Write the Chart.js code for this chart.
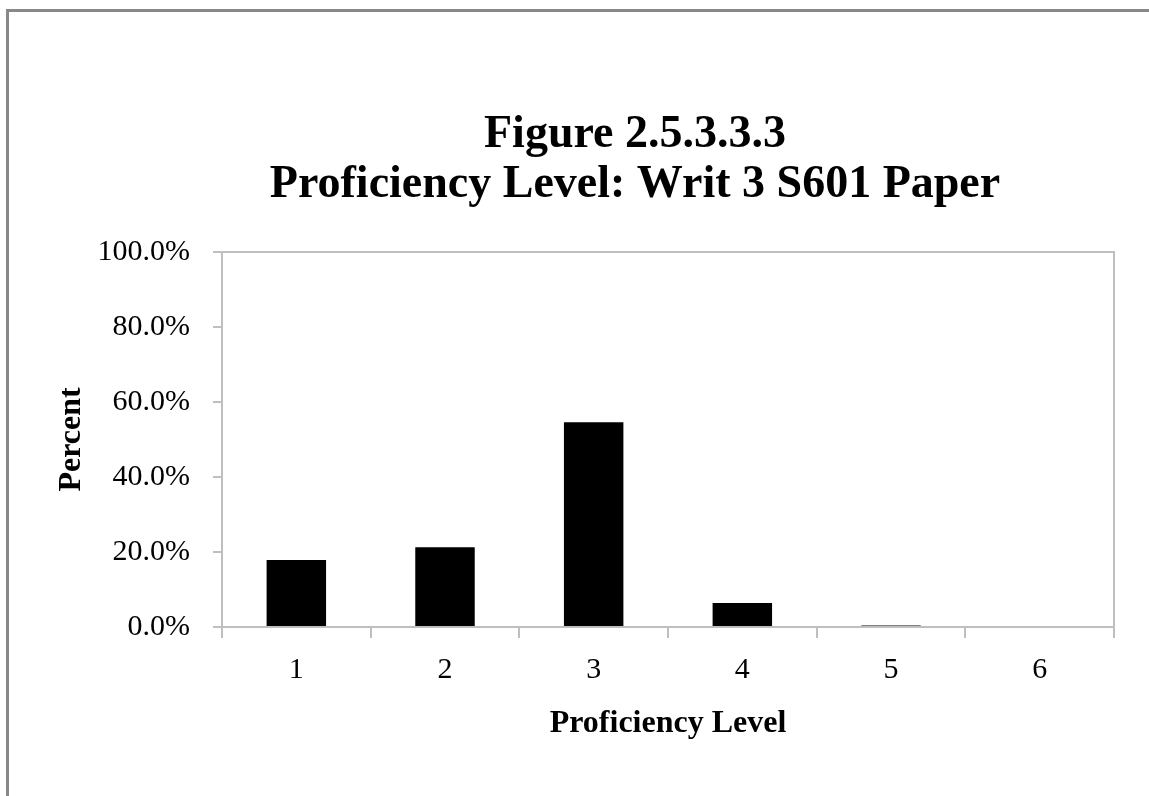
<!DOCTYPE html>
<html>
<head>
<meta charset="utf-8">
<script src="https://cdn.jsdelivr.net/npm/chart.js@4.4.1/dist/chart.umd.min.js"></script>
<style>
    html, body { margin: 0; padding: 0; background: #fff; overflow: hidden; }
    #frame {
        position: absolute; left: 6px; top: 9px; width: 1400px; height: 1000px;
        border-left: 3px solid #888; border-top: 3px solid #888;
    }
    #wrap { position: absolute; left: 0; top: 0; width: 1149px; height: 796px; }
</style>
</head>
<body>
<div id="frame"></div>
<div id="wrap"><canvas id="proficiencyChart"></canvas></div>
<script>
const levels = ['1', '2', '3', '4', '5', '6'];
const percents = [17.9, 21.3, 54.6, 6.4, 0.4, 0];
const yTicks = [0, 20, 40, 60, 80, 100];

const FONT = "'Liberation Serif', 'Times New Roman', serif";
const AXIS_GRAY = '#BFBFBF';
const TITLE_CENTER_X = 635;

// grey box round the plot area (top and right sides)
const plotFrame = {
    id: 'plotFrame',
    afterLayout(chart) {
        // the original title is centred on the whole (wider) chart object
        const t = chart.titleBlock;
        if (t) t.left = 2 * TITLE_CENTER_X - t.right;
    },
    beforeDatasetsDraw(chart) {
        const { ctx, chartArea: a } = chart;
        ctx.save();
        ctx.strokeStyle = AXIS_GRAY;
        ctx.lineWidth = 2;
        ctx.strokeRect(a.left, a.top, a.right - a.left, a.bottom - a.top);
        ctx.restore();
    }
};

document.addEventListener("DOMContentLoaded", function () {
    const ctx = document.getElementById('proficiencyChart').getContext('2d');

    new Chart(ctx, {
        type: 'bar',
        data: {
            labels: levels,
            datasets: [{
                label: 'Percent',
                data: percents,
                backgroundColor: '#000000',
                borderWidth: 0,
                barPercentage: 0.4,
                categoryPercentage: 1.0
            }]
        },
        options: {
            responsive: true,
            maintainAspectRatio: false,
            animation: false,
            layout: {
                padding: { top: 100, left: 49, right: 35, bottom: 49 }
            },
            plugins: {
                legend: { display: false },
                tooltip: { enabled: false },
                title: {
                    display: true,
                    text: ['Figure 2.5.3.3.3', 'Proficiency Level: Writ 3 S601 Paper'],
                    color: '#000',
                    font: { family: FONT, size: 46, weight: 'bold', lineHeight: 50 / 46 },
                    padding: { top: 10, bottom: 42 }
                }
            },
            scales: {
                x: {
                    afterFit: function (scale) { scale.height = 120; },
                    grid: {
                        offset: true,
                        drawOnChartArea: false,
                        drawTicks: true,
                        tickLength: 11,
                        color: AXIS_GRAY,
                        lineWidth: 2
                    },
                    border: { color: AXIS_GRAY, width: 2 },
                    ticks: {
                        color: '#000',
                        padding: 14,
                        font: { family: FONT, size: 30 }
                    },
                    title: {
                        display: true,
                        text: 'Proficiency Level',
                        color: '#000',
                        font: { family: FONT, size: 32, weight: 'bold' }
                    }
                },
                y: {
                    min: 0,
                    max: 100,
                    afterFit: function (scale) { scale.width = 173; },
                    afterBuildTicks: function (scale) {
                        scale.ticks = yTicks.map(v => ({ value: v }));
                    },
                    grid: {
                        drawOnChartArea: false,
                        drawTicks: true,
                        tickLength: 9,
                        color: AXIS_GRAY,
                        lineWidth: 2
                    },
                    border: { color: AXIS_GRAY, width: 2 },
                    ticks: {
                        color: '#000',
                        padding: 23,
                        font: { family: FONT, size: 30 },
                        callback: function (value) {
                            return value.toFixed(1) + '%';
                        }
                    },
                    title: {
                        display: true,
                        text: 'Percent',
                        color: '#000',
                        font: { family: FONT, size: 32, weight: 'bold' }
                    }
                }
            }
        },
        plugins: [plotFrame]
    });
});
</script>
</body>
</html>
